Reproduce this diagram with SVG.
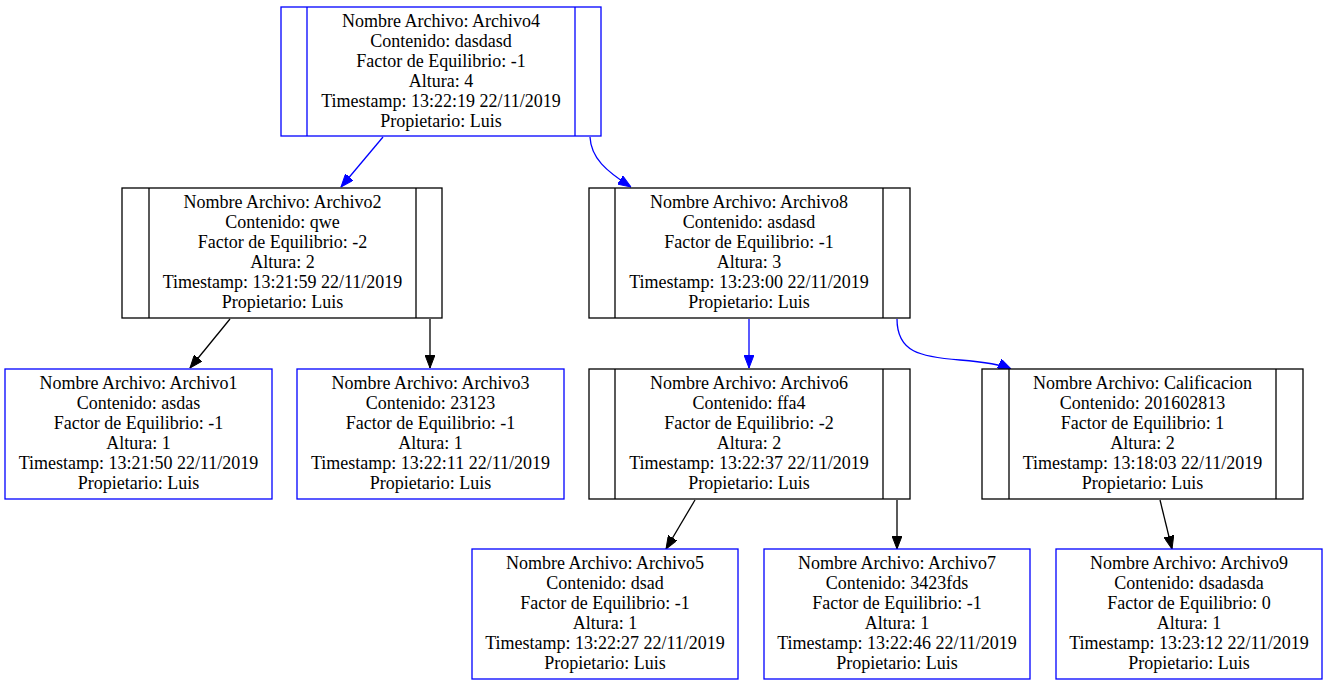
<svg xmlns="http://www.w3.org/2000/svg" width="1328" height="685" viewBox="0 0 1328 685">
<style>
text{font-family:"Liberation Serif","Times New Roman",serif;font-size:18px;fill:#000;text-anchor:middle}
.b{fill:#fff;stroke:#0000ff;stroke-width:1.3}
.k{fill:#fff;stroke:#000;stroke-width:1.3}
.eb{fill:none;stroke:#0000ff;stroke-width:1.3}
.ek{fill:none;stroke:#000;stroke-width:1.3}
</style>
<defs>
<marker id="ab" viewBox="0 0 13 10" refX="13" refY="5" markerWidth="13" markerHeight="10" markerUnits="userSpaceOnUse" orient="auto"><path d="M0,0 L13,5 L0,10 z" fill="#0000ff" stroke="#0000ff"/></marker>
<marker id="ak" viewBox="0 0 13 10" refX="13" refY="5" markerWidth="13" markerHeight="10" markerUnits="userSpaceOnUse" orient="auto"><path d="M0,0 L13,5 L0,10 z" fill="#000" stroke="#000"/></marker>
</defs>
<rect width="1328" height="685" fill="#fff"/>
<g id="connectors">
<path class="eb" d="M383,137 L341,187" marker-end="url(#ab)"/>
<path class="eb" d="M590,137 C591,158 606,171 631,187" marker-end="url(#ab)"/>
<path class="ek" d="M230,319 L190,368" marker-end="url(#ak)"/>
<path class="ek" d="M430,319 L430,368" marker-end="url(#ak)"/>
<path class="eb" d="M749,319 L749,368" marker-end="url(#ab)"/>
<path class="eb" d="M897,319 C897,352 920,357 960,360 C985,362 1000,364 1011,369" marker-end="url(#ab)"/>
<path class="ek" d="M695,500 L666,549" marker-end="url(#ak)"/>
<path class="ek" d="M897,500 L897,549" marker-end="url(#ak)"/>
<path class="ek" d="M1160,500 L1172,549" marker-end="url(#ak)"/>
</g>
<g id="archivo4">
<rect class="b" x="281" y="7" width="320" height="129"/>
<line class="b" x1="307" y1="7" x2="307" y2="136"/><line class="b" x1="575" y1="7" x2="575" y2="136"/>
<text x="441" y="27">Nombre Archivo: Archivo4</text><text x="441" y="47">Contenido: dasdasd</text><text x="441" y="67">Factor de Equilibrio: -1</text><text x="441" y="87">Altura: 4</text><text x="441" y="107">Timestamp: 13:22:19 22/11/2019</text><text x="441" y="127">Propietario: Luis</text>
</g>
<g id="archivo2">
<rect class="k" x="122" y="188" width="320" height="130"/>
<line class="k" x1="149" y1="188" x2="149" y2="318"/><line class="k" x1="416" y1="188" x2="416" y2="318"/>
<text x="282.5" y="208">Nombre Archivo: Archivo2</text><text x="282.5" y="228">Contenido: qwe</text><text x="282.5" y="248">Factor de Equilibrio: -2</text><text x="282.5" y="268">Altura: 2</text><text x="282.5" y="288">Timestamp: 13:21:59 22/11/2019</text><text x="282.5" y="308">Propietario: Luis</text>
</g>
<g id="archivo8">
<rect class="k" x="589" y="188" width="321" height="130"/>
<line class="k" x1="615" y1="188" x2="615" y2="318"/><line class="k" x1="883" y1="188" x2="883" y2="318"/>
<text x="749" y="208">Nombre Archivo: Archivo8</text><text x="749" y="228">Contenido: asdasd</text><text x="749" y="248">Factor de Equilibrio: -1</text><text x="749" y="268">Altura: 3</text><text x="749" y="288">Timestamp: 13:23:00 22/11/2019</text><text x="749" y="308">Propietario: Luis</text>
</g>
<g id="archivo1">
<rect class="b" x="5" y="369" width="267" height="130"/>
<text x="138.5" y="389">Nombre Archivo: Archivo1</text><text x="138.5" y="409">Contenido: asdas</text><text x="138.5" y="429">Factor de Equilibrio: -1</text><text x="138.5" y="449">Altura: 1</text><text x="138.5" y="469">Timestamp: 13:21:50 22/11/2019</text><text x="138.5" y="489">Propietario: Luis</text>
</g>
<g id="archivo3">
<rect class="b" x="297" y="369" width="267" height="130"/>
<text x="430.5" y="389">Nombre Archivo: Archivo3</text><text x="430.5" y="409">Contenido: 23123</text><text x="430.5" y="429">Factor de Equilibrio: -1</text><text x="430.5" y="449">Altura: 1</text><text x="430.5" y="469">Timestamp: 13:22:11 22/11/2019</text><text x="430.5" y="489">Propietario: Luis</text>
</g>
<g id="archivo6">
<rect class="k" x="589" y="369" width="321" height="130"/>
<line class="k" x1="615" y1="369" x2="615" y2="499"/><line class="k" x1="883" y1="369" x2="883" y2="499"/>
<text x="749" y="389">Nombre Archivo: Archivo6</text><text x="749" y="409">Contenido: ffa4</text><text x="749" y="429">Factor de Equilibrio: -2</text><text x="749" y="449">Altura: 2</text><text x="749" y="469">Timestamp: 13:22:37 22/11/2019</text><text x="749" y="489">Propietario: Luis</text>
</g>
<g id="calificacion">
<rect class="k" x="982" y="369" width="321" height="130"/>
<line class="k" x1="1009" y1="369" x2="1009" y2="499"/><line class="k" x1="1276" y1="369" x2="1276" y2="499"/>
<text x="1142.5" y="389">Nombre Archivo: Calificacion</text><text x="1142.5" y="409">Contenido: 201602813</text><text x="1142.5" y="429">Factor de Equilibrio: 1</text><text x="1142.5" y="449">Altura: 2</text><text x="1142.5" y="469">Timestamp: 13:18:03 22/11/2019</text><text x="1142.5" y="489">Propietario: Luis</text>
</g>
<g id="archivo5">
<rect class="b" x="472" y="549" width="266" height="130"/>
<text x="605" y="569">Nombre Archivo: Archivo5</text><text x="605" y="589">Contenido: dsad</text><text x="605" y="609">Factor de Equilibrio: -1</text><text x="605" y="629">Altura: 1</text><text x="605" y="649">Timestamp: 13:22:27 22/11/2019</text><text x="605" y="669">Propietario: Luis</text>
</g>
<g id="archivo7">
<rect class="b" x="764" y="549" width="266" height="130"/>
<text x="897" y="569">Nombre Archivo: Archivo7</text><text x="897" y="589">Contenido: 3423fds</text><text x="897" y="609">Factor de Equilibrio: -1</text><text x="897" y="629">Altura: 1</text><text x="897" y="649">Timestamp: 13:22:46 22/11/2019</text><text x="897" y="669">Propietario: Luis</text>
</g>
<g id="archivo9">
<rect class="b" x="1056" y="549" width="266" height="130"/>
<text x="1189" y="569">Nombre Archivo: Archivo9</text><text x="1189" y="589">Contenido: dsadasda</text><text x="1189" y="609">Factor de Equilibrio: 0</text><text x="1189" y="629">Altura: 1</text><text x="1189" y="649">Timestamp: 13:23:12 22/11/2019</text><text x="1189" y="669">Propietario: Luis</text>
</g>
</svg>
